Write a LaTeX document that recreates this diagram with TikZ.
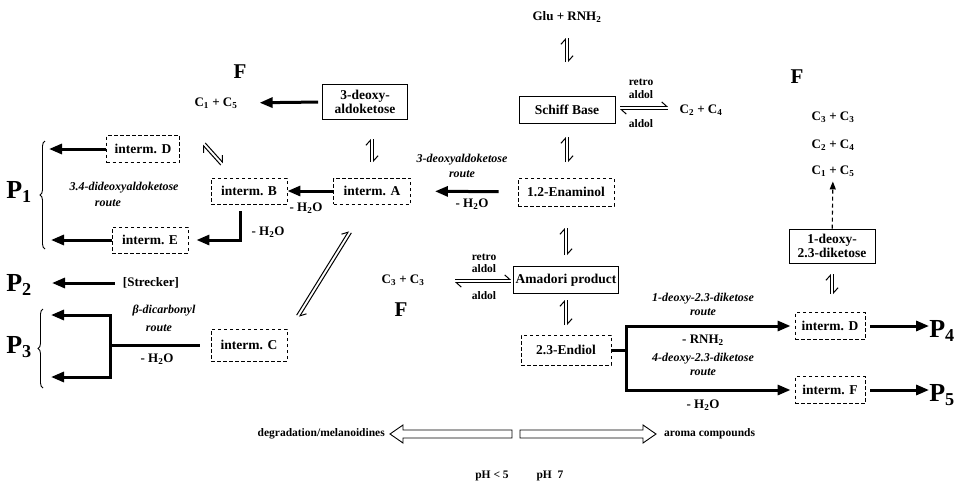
\documentclass[tikz,border=0pt]{standalone}
\usepackage{fontspec}
\setmainfont{Liberation Serif}
\usetikzlibrary{arrows.meta,calc,decorations.pathreplacing}
\newcommand{\eqpair}[3][]{%
  \draw[harp,#1] ($(#2)!1.6pt!90:(#3)$) -- ($(#3)!1.6pt!-90:(#2)$);
  \draw[harp,#1] ($(#3)!1.6pt!90:(#2)$) -- ($(#2)!1.6pt!-90:(#3)$);
}
\begin{document}
\begin{tikzpicture}[x=1pt,y=-1pt,
  every node/.style={inner sep=0pt, font=\fontsize{13}{14}\selectfont\bfseries},
  box/.style={draw, line width=0.9pt, inner sep=2pt, align=center, font=\fontsize{13.5}{14.5}\selectfont\bfseries},
  dbox/.style={box, dash pattern=on 3.5pt off 2.5pt},
  fat/.style={line width=3pt, -{Triangle[length=13pt,width=10pt]}},
  fatline/.style={line width=3pt},
  harp/.style={line width=1pt, -{Straight Barb[harpoon,length=5pt,width=9pt]}},
  small/.style={font=\fontsize{11.5}{12}\selectfont\bfseries},
  route/.style={font=\fontsize{12}{13}\selectfont\bfseries\itshape},
  bigF/.style={font=\fontsize{21}{24}\selectfont\bfseries},
  bigP/.style={font=\fontsize{26}{28}\selectfont\bfseries},
  brace/.style={decorate, decoration={brace, amplitude=5pt}, line width=0.9pt},
]
\useasboundingbox (0,0) rectangle (961,490);

% ---------- central column ----------
\node (glu) at (567,17) {Glu + RNH\textsubscript{2}};
\node[box, minimum width=96pt, minimum height=27pt] (schiff) at (567,110) {Schiff Base};
\node[dbox, minimum width=96pt, minimum height=28pt] (enam) at (566,192) {1.2-Enaminol};
\node[box, minimum width=104pt, minimum height=27pt] (amad) at (566,280) {Amadori product};
\node[dbox, minimum width=90pt, minimum height=30pt] (endiol) at (566,350) {2.3-Endiol};
\coordinate (e1a) at (567,38);  \coordinate (e1b) at (567,62);
\coordinate (e2a) at (567,137); \coordinate (e2b) at (567,162);
\coordinate (e3a) at (566,228); \coordinate (e3b) at (566,255);
\coordinate (e4a) at (566,300); \coordinate (e4b) at (566,325);
\eqpair{e1a}{e1b}
\eqpair{e2a}{e2b}
\eqpair{e3a}{e3b}
\eqpair{e4a}{e4b}

% ---------- retro aldol right ----------
\node[small] (rr1) at (641,82) {retro};
\node[small] (ra1) at (641,95) {aldol};
\node[small] (al1) at (641,124) {aldol};
\node (c24) at (701,110) {C\textsubscript{2} + C\textsubscript{4}};
\coordinate (r1a) at (620,108); \coordinate (r1b) at (668,108);
\eqpair{r1a}{r1b}

% ---------- right column ----------
\node[bigF] (Fr) at (797,77) {F};
\node (c33r) at (833,117) {C\textsubscript{3} + C\textsubscript{3}};
\node (c24r) at (833,145) {C\textsubscript{2} + C\textsubscript{4}};
\node (c15r) at (833,171) {C\textsubscript{1} + C\textsubscript{5}};
\node[box, minimum width=86pt, minimum height=34pt, inner sep=1pt] (deoxy1) at (832,246) {1-deoxy-\\2.3-diketose};
\draw[line width=1.1pt, dash pattern=on 4pt off 3pt, -{Triangle[length=8pt,width=6pt]}, shorten >=5pt] (deoxy1) -- (c15r);
\coordinate (e5a) at (832,274); \coordinate (e5b) at (832,294);
\eqpair{e5a}{e5b}
\node[dbox, minimum width=70pt, minimum height=27pt] (intDR) at (830,326) {interm. D};
\node[dbox, minimum width=70pt, minimum height=27pt] (intF) at (830,390) {interm. F};
\node[bigP] (P4) at (942,331) {P\textsubscript{4}};
\node[bigP] (P5) at (942,395) {P\textsubscript{5}};
\draw[fat, shorten <=5pt] (intDR.east) -- (intDR.east -| P4.west);
\draw[fat, shorten <=5pt] (intF.east) -- (intF.east -| P5.west);

% bracket from 2.3-Endiol
\coordinate (jm) at (626,350);
\draw[fatline] (endiol.east) -- (jm);
\draw[fat, shorten >=4pt] (jm) |- (intDR.west);
\draw[fat, shorten >=4pt] (jm) |- (intF.west);
\node[route] (rt1) at (703,299) {1-deoxy-2.3-diketose};
\node[route] (rt1b) at (703,312) {route};
\node (rnh) at (703,340) {- RNH\textsubscript{2}};
\node[route] (rt2) at (703,359) {4-deoxy-2.3-diketose};
\node[route] (rt2b) at (703,372) {route};
\node (h2o4) at (703,405) {- H\textsubscript{2}O};

% ---------- middle lower ----------
\node (c33m) at (403,280) {C\textsubscript{3} + C\textsubscript{3}};
\node[bigF] (Fm) at (401,310) {F};
\node[small] (rr2) at (484,257) {retro};
\node[small] (ra2) at (484,269) {aldol};
\node[small] (al2) at (484,296) {aldol};
\coordinate (m1a) at (455,281); \coordinate (m1b) at (511,281);
\eqpair{m1a}{m1b}

% ---------- middle upper ----------
\node[route] (rt3) at (462,160) {3-deoxyaldoketose};
\node[route] (rt3b) at (462,174) {route};
\node[dbox, minimum width=77pt, minimum height=26pt] (intA) at (372,191) {interm. A};
\draw[fat, shorten <=19pt, shorten >=24pt] (enam) -- (intA);
\node (h2o1) at (472,204) {- H\textsubscript{2}O};

% ---------- left ----------
\node[box, minimum width=85pt, minimum height=35pt, inner sep=1pt] (deoxy) at (365,102) {3-deoxy-\\aldoketose};
\node[bigF] (Fl) at (240,72) {F};
\node (c15l) at (216,103) {C\textsubscript{1} + C\textsubscript{5}};
\draw[fat, shorten <=4pt, shorten >=22pt] (deoxy.west) -- (c15l.east);
\coordinate (e6a) at (372,139); \coordinate (e6b) at (372,162);
\eqpair{e6a}{e6b}
\node[dbox, minimum width=76pt, minimum height=26pt] (intB) at (249,191) {interm. B};
\draw[fat] (intA) -- (intB);
\node (h2o2) at (306,208) {- H\textsubscript{2}O};

\node[dbox, minimum width=73pt, minimum height=27pt] (intDL) at (143,149) {interm. D};
\coordinate (p1t) at (49,149);
\draw[fat] (intDL) -- (p1t);
\coordinate (d1a) at (222,164); \coordinate (d1b) at (204,144);
\eqpair{d1a}{d1b}
\node[route] (rt4) at (124,188) {3.4-dideoxyaldoketose};
\node[route] (rt4b) at (108,203) {route};
\node[dbox, minimum width=76pt, minimum height=26pt] (intE) at (150,240) {interm. E};
\coordinate (p1b) at (51,240);
\draw[fat] (intE) -- (p1b);
\coordinate (bT) at (240,211);
\draw[fat, shorten >=8pt] (bT) |- (intE.east);
\node (h2o3) at (268,232) {- H\textsubscript{2}O};
\draw[brace] (45,249) -- (45,141);
\node[bigP] (P1) at (19,192) {P\textsubscript{1}};

\node[bigP] (P2) at (19,285) {P\textsubscript{2}};
\node (str) at (151,283) {[Strecker]};
\coordinate (p2a) at (52,283);
\draw[fat, shorten <=8pt] (str.west) -- (p2a);

\node[bigP] (P3) at (19,347) {P\textsubscript{3}};
\draw[brace] (43,388) -- (43,309);
\node[dbox, minimum width=76pt, minimum height=32pt] (intC) at (249,345) {interm. C};
\coordinate (jc) at (110,345);
\coordinate (p3t) at (51,315); \coordinate (p3b) at (51,377);
\draw[fatline, shorten <=11pt] (intC.west) -- (jc);
\draw[fat] (jc) |- (p3t);
\draw[fat] (jc) |- (p3b);
\node[route] (rt5) at (164,311) {β-dicarbonyl};
\node[route] (rt5b) at (159,328) {route};
\node (h2o5) at (157,359) {- H\textsubscript{2}O};
\coordinate (d2a) at (298,316); \coordinate (d2b) at (350,232);
\eqpair{d2a}{d2b}

% ---------- bottom ----------
\node[anchor=east, small] (deg) at (385,434) {degradation/melanoidines};
\draw[line width=0.9pt] (512,430) -- (403,430) -- (403,425) -- (390,434) -- (403,443) -- (403,438) -- (512,438) -- cycle;
\draw[line width=0.9pt] (520,430) -- (643,430) -- (643,425) -- (656,434) -- (643,443) -- (643,438) -- (520,438) -- cycle;
\node[anchor=west, small] (aroma) at (664,434) {aroma compounds};
\node[small] (ph5) at (492,476) {pH < 5};
\node[small] (ph7) at (550,476) {pH\ \ 7};
\end{tikzpicture}
\end{document}
